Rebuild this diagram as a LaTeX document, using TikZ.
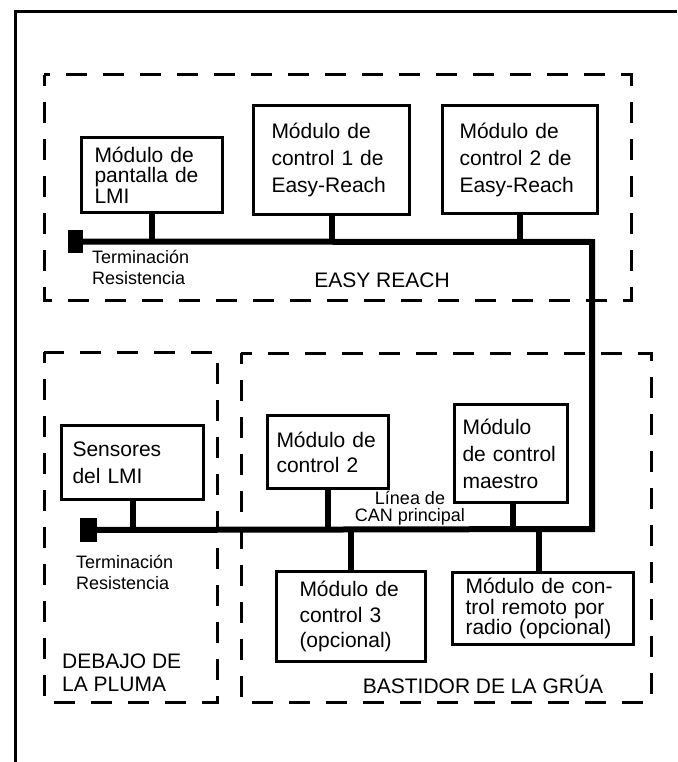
\documentclass[tikz,border=0pt]{standalone}
\usepackage{fontspec}
\setmainfont{Liberation Sans}

\begin{document}
\begin{tikzpicture}[
  x=1pt, y=-1pt,
  modbox/.style={draw, line width=3pt, anchor=north west, align=left, inner ysep=0pt, font=\fontsize{21}{27}\selectfont},
  tightbox/.style={modbox, font=\fontsize{21}{20.5}\selectfont},
  zone/.style={draw, line width=3pt, dash pattern=on 21pt off 16pt, dash phase=10pt},
  bus/.style={line width=6pt},
  term/.style={fill=black, inner sep=0pt, minimum width=15pt, minimum height=23pt},
  note/.style={inner sep=0pt, align=left, font=\fontsize{18}{21}\selectfont},
  zonelabel/.style={inner sep=0pt, align=left, font=\fontsize{21}{23}\selectfont}
]
\useasboundingbox (0,0) rectangle (677,762);
% frame and zones
\draw[line width=3pt] (15,762) -- (15,11.5) -- (677,11.5);
\draw[zone] (44,75) rectangle (631,300);
\draw[zone] (44,352) rectangle (217,702);
\draw[zone] (241,353) rectangle (651,702);

% modules
\node[tightbox, text width=115pt, inner xsep=13pt, minimum height=75pt] (lmidisp) at (80,136) {Módulo de\\pantalla de\\LMI};
\node[modbox, text width=120pt, inner xsep=18pt, minimum height=109pt] (ctrlone) at (252,104) {Módulo de\\control 1 de\\Easy-Reach};
\node[modbox, text width=121pt, inner xsep=17pt, minimum height=108pt] (ctrltwoer) at (441,104) {Módulo de\\control 2 de\\Easy-Reach};
\node[modbox, text width=120pt, inner xsep=11pt, minimum height=74pt] (sensors) at (60,424) {Sensores\\del LMI};
\node[modbox, font=\fontsize{21}{25}\selectfont, text width=103pt, inner xsep=9pt, minimum height=73pt] (ctrltwo) at (266,414) {Módulo de\\control 2};
\node[modbox, text width=97pt, inner xsep=8pt, minimum height=98pt] (master) at (453,403) {Módulo\\de control\\maestro};
\node[modbox, font=\fontsize{21}{25.5}\selectfont, text width=103pt, inner xsep=23pt, minimum height=90pt] (ctrlthree) at (275,570) {Módulo de\\control 3\\(opcional)};
\node[tightbox, text width=155pt, inner xsep=13pt, minimum height=72pt] (radio) at (451,571) {Módulo de con-\\trol remoto por\\radio (opcional)};

% terminations
\node[term] (termtop) at (75.5,241.5) {};
\node[term, minimum width=17pt, minimum height=24pt] (termlow) at (88.5,530) {};

% CAN bus
\coordinate (busup) at (592,242);
\coordinate (buslow) at (592,529);
\draw[bus] (termtop) -- (busup) -- (buslow) -- (termlow);
\draw[bus] (lmidisp) -- (lmidisp |- busup);
\draw[bus] (ctrlone) -- (ctrlone |- busup);
\draw[bus] (ctrltwoer) -- (ctrltwoer |- busup);
\draw[bus] (sensors) -- (sensors |- buslow);
\draw[bus] (ctrltwo) -- (ctrltwo |- buslow);
\draw[bus] ([xshift=2pt]master.south) -- ([xshift=2pt]master.south |- buslow);
\draw[bus] (ctrlthree) -- (ctrlthree |- buslow);
\draw[bus] ([xshift=-4pt]radio.north) -- ([xshift=-4pt]radio.north |- buslow);

% labels
\node[note, anchor=west] (termtopnote) at (92,267.5) {Terminación\\Resistencia};
\node[note, anchor=west] (termlownote) at (76,572.5) {Terminación\\Resistencia};
\node[note, align=center, font=\fontsize{18}{17}\selectfont] (busnote) at (410,508.5) {Línea de\\CAN principal};
\node[zonelabel] (easylabel) at (382,280) {EASY REACH};
\node[zonelabel, anchor=west] (boomlabel) at (62,673) {DEBAJO DE\\LA PLUMA};
\node[zonelabel] (framelabel) at (483,684) {BASTIDOR DE LA GRÚA};
\end{tikzpicture}
\end{document}
